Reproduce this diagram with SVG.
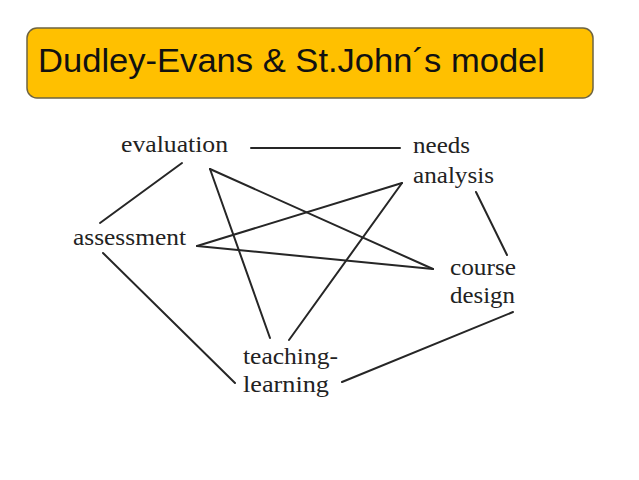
<svg xmlns="http://www.w3.org/2000/svg" width="639" height="480" viewBox="0 0 639 480">
<style>
.lbl{font-family:"Liberation Serif","DejaVu Serif",serif;font-size:23px;fill:#222}
.ttl{font-family:"Liberation Sans","DejaVu Sans",sans-serif;font-size:33px;fill:#111}
.ln{stroke:#262626;stroke-width:2;fill:none;stroke-linecap:round}
</style>
<rect width="639" height="480" fill="#ffffff"/>
<g id="title">
<rect x="27" y="28" width="566" height="70" rx="10" fill="#FFC000" stroke="#6e6442" stroke-width="1.5"/>
<text class="ttl" x="38" y="72" textLength="507" lengthAdjust="spacingAndGlyphs">Dudley-Evans &amp; St.John´s model</text>
</g>
<g id="connectors">
<line class="ln" x1="251" y1="148" x2="400" y2="148"/>
<line class="ln" x1="182" y1="163" x2="100" y2="223"/>
<line class="ln" x1="210" y1="169" x2="433" y2="269"/>
<line class="ln" x1="210" y1="169" x2="270" y2="338"/>
<line class="ln" x1="197" y1="246" x2="402" y2="183"/>
<line class="ln" x1="197" y1="246" x2="433" y2="269"/>
<line class="ln" x1="402" y1="183" x2="289" y2="340"/>
<line class="ln" x1="476" y1="192" x2="507" y2="255"/>
<line class="ln" x1="103" y1="253" x2="235" y2="383"/>
<line class="ln" x1="513" y1="312" x2="342" y2="382"/>
</g>
<g id="evaluation"><text class="lbl" x="121" y="152" textLength="107" lengthAdjust="spacingAndGlyphs">evaluation</text></g>
<g id="needs-analysis">
<text class="lbl" x="413" y="153" textLength="57" lengthAdjust="spacingAndGlyphs">needs</text>
<text class="lbl" x="413" y="183" textLength="81" lengthAdjust="spacingAndGlyphs">analysis</text>
</g>
<g id="assessment"><text class="lbl" x="73" y="245" textLength="113" lengthAdjust="spacingAndGlyphs">assessment</text></g>
<g id="course-design">
<text class="lbl" x="450" y="275" textLength="66" lengthAdjust="spacingAndGlyphs">course</text>
<text class="lbl" x="450" y="303" textLength="65" lengthAdjust="spacingAndGlyphs">design</text>
</g>
<g id="teaching-learning">
<text class="lbl" x="243" y="364" textLength="95" lengthAdjust="spacingAndGlyphs">teaching-</text>
<text class="lbl" x="243" y="392" textLength="86" lengthAdjust="spacingAndGlyphs">learning</text>
</g>
</svg>
